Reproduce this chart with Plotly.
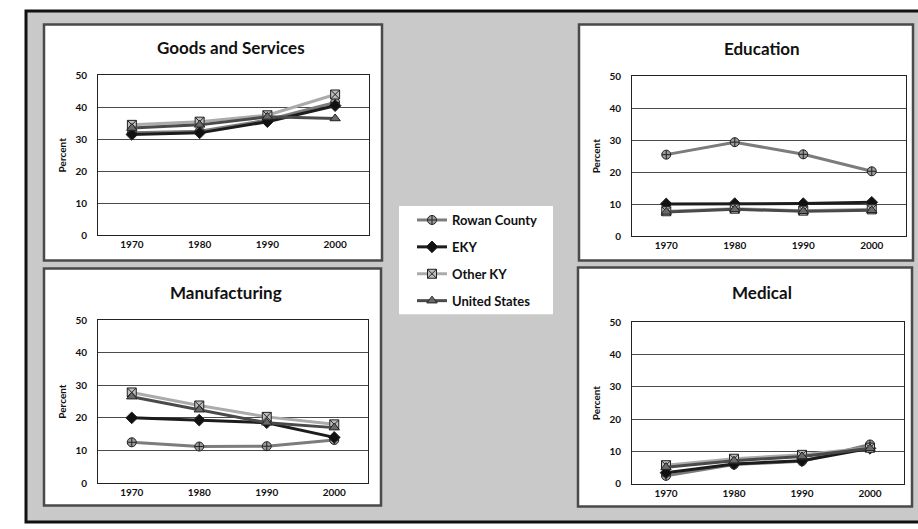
import plotly.graph_objects as go

W, H = 918, 529

years = ["1970", "1980", "1990", "2000"]
series_names = ["Rowan County", "EKY", "Other KY", "United States"]

# Percent of employment by sector
goods_rowan = [32.0, 32.5, 36.0, 41.5]
goods_eky = [31.5, 32.0, 35.5, 40.5]
goods_other = [34.5, 35.5, 37.5, 44.0]
goods_us = [33.5, 34.5, 37.0, 36.5]

edu_rowan = [25.5, 29.4, 25.6, 20.3]
edu_eky = [10.1, 10.2, 10.2, 10.6]
edu_other = [7.8, 8.6, 8.0, 8.4]
edu_us = [7.6, 8.4, 7.8, 8.1]

mfg_rowan = [12.5, 11.2, 11.3, 13.2]
mfg_eky = [20.0, 19.3, 18.5, 14.0]
mfg_other = [27.8, 23.8, 20.3, 18.0]
mfg_us = [26.5, 22.5, 18.5, 17.0]

med_rowan = [2.5, 6.0, 7.0, 12.2]
med_eky = [3.5, 6.2, 7.2, 11.0]
med_other = [5.8, 7.8, 9.0, 11.2]
med_us = [5.2, 7.2, 8.5, 11.0]

panel_titles = ["Goods and Services", "Education", "Manufacturing", "Medical"]
panel_data = [
    [goods_rowan, goods_eky, goods_other, goods_us],
    [edu_rowan, edu_eky, edu_other, edu_us],
    [mfg_rowan, mfg_eky, mfg_other, mfg_us],
    [med_rowan, med_eky, med_other, med_us],
]

# series styling (grayscale print)
line_colors = ["#7c7c7c", "#1c1c1c", "#ababab", "#4a4a4a"]
marker_symbols = ["circle-cross", "diamond", "square-x", "triangle-up"]
marker_fills = ["#9a9a9a", "#111111", "#bdbdbd", "#6a6a6a"]


def px_x(v):
    return v / W


def px_y(v):
    return 1 - v / H


# plot areas in pixels: (left, right, top, bottom)
plot_boxes = [
    (98, 369, 70, 234),
    (632, 906, 71, 235),
    (98, 368, 321, 488),
    (632, 904, 323, 489),
]
# white panel frames: (left, top, right, bottom)
panel_boxes = [
    (44, 18, 382, 260),
    (579, 18, 913, 260),
    (44, 268, 381, 511),
    (578, 267, 912, 512),
]
title_pos = [(231, 42), (762, 43), (226, 293), (762, 293)]

FONT = "Lato"
fig = go.Figure()

for p, data in enumerate(panel_data):
    ax = "" if p == 0 else str(p + 1)
    for s, vals in enumerate(data):
        fig.add_trace(go.Scatter(
            x=years, y=vals, mode="lines+markers",
            name=series_names[s], legendgroup=series_names[s],
            showlegend=(p == 0),
            line=dict(color=line_colors[s], width=3),
            marker=dict(symbol=marker_symbols[s], size=9,
                        color=marker_fills[s],
                        line=dict(color="#222222", width=1)),
            xaxis="x" + ax, yaxis="y" + ax,
        ))
    l, r, t, b = plot_boxes[p]
    xa = dict(domain=[px_x(l), px_x(r)], anchor="y" + ax, type="category",
              range=[-0.5, 3.5], showgrid=False, showline=True, mirror=True,
              linecolor="#222222", linewidth=1, ticks="",
              tickfont=dict(family=FONT, size=10, color="#111111", weight="bold"),
              fixedrange=True)
    ya = dict(domain=[px_y(b), px_y(t)], anchor="x" + ax, range=[0, 50],
              dtick=10, showgrid=True, gridcolor="#4a4a4a", gridwidth=1,
              showline=True, mirror=True, linecolor="#222222", linewidth=1,
              zeroline=False, ticks="", ticklabelstandoff=8,
              tickfont=dict(family=FONT, size=10, color="#111111", weight="bold"),
              title=dict(text="Percent", standoff=6,
                         font=dict(family=FONT, size=10, color="#111111", weight="bold")),
              fixedrange=True)
    fig.layout["xaxis" + ax] = xa
    fig.layout["yaxis" + ax] = ya

shapes = [
    # speckled gray backing with a heavy outer rule
    dict(type="rect", xref="paper", yref="paper",
         x0=px_x(26), x1=px_x(925), y0=px_y(528), y1=px_y(4),
         fillcolor="#c9c9c9", line=dict(color="#111111", width=3), layer="below"),
]
for (l, t, r, b) in panel_boxes:
    shapes.append(dict(type="rect", xref="paper", yref="paper",
                       x0=px_x(l), x1=px_x(r), y0=px_y(b), y1=px_y(t),
                       fillcolor="white", line=dict(color="#4a4a4a", width=2.5),
                       layer="below"))
# legend backing
shapes.append(dict(type="rect", xref="paper", yref="paper",
                   x0=px_x(399), x1=px_x(553), y0=px_y(315), y1=px_y(204),
                   fillcolor="white", line=dict(width=0), layer="below"))

annotations = []
for (cx, cy), txt in zip(title_pos, panel_titles):
    annotations.append(dict(text=txt, x=px_x(cx), y=px_y(cy), xref="paper", yref="paper",
                            showarrow=False, xanchor="center", yanchor="middle",
                            font=dict(family=FONT, size=17, color="#111111", weight="bold")))

fig.update_layout(
    width=W, height=H, margin=dict(l=0, r=0, t=0, b=0),
    paper_bgcolor="white", plot_bgcolor="white",
    shapes=shapes, annotations=annotations,
    legend=dict(x=px_x(412), y=px_y(203), xanchor="left", yanchor="top",
                bgcolor="rgba(0,0,0,0)", traceorder="grouped", tracegroupgap=7,
                font=dict(family=FONT, size=13, color="#111111", weight="bold"),
                itemwidth=30),
    showlegend=True,
)

fig.write_html("out.html")
